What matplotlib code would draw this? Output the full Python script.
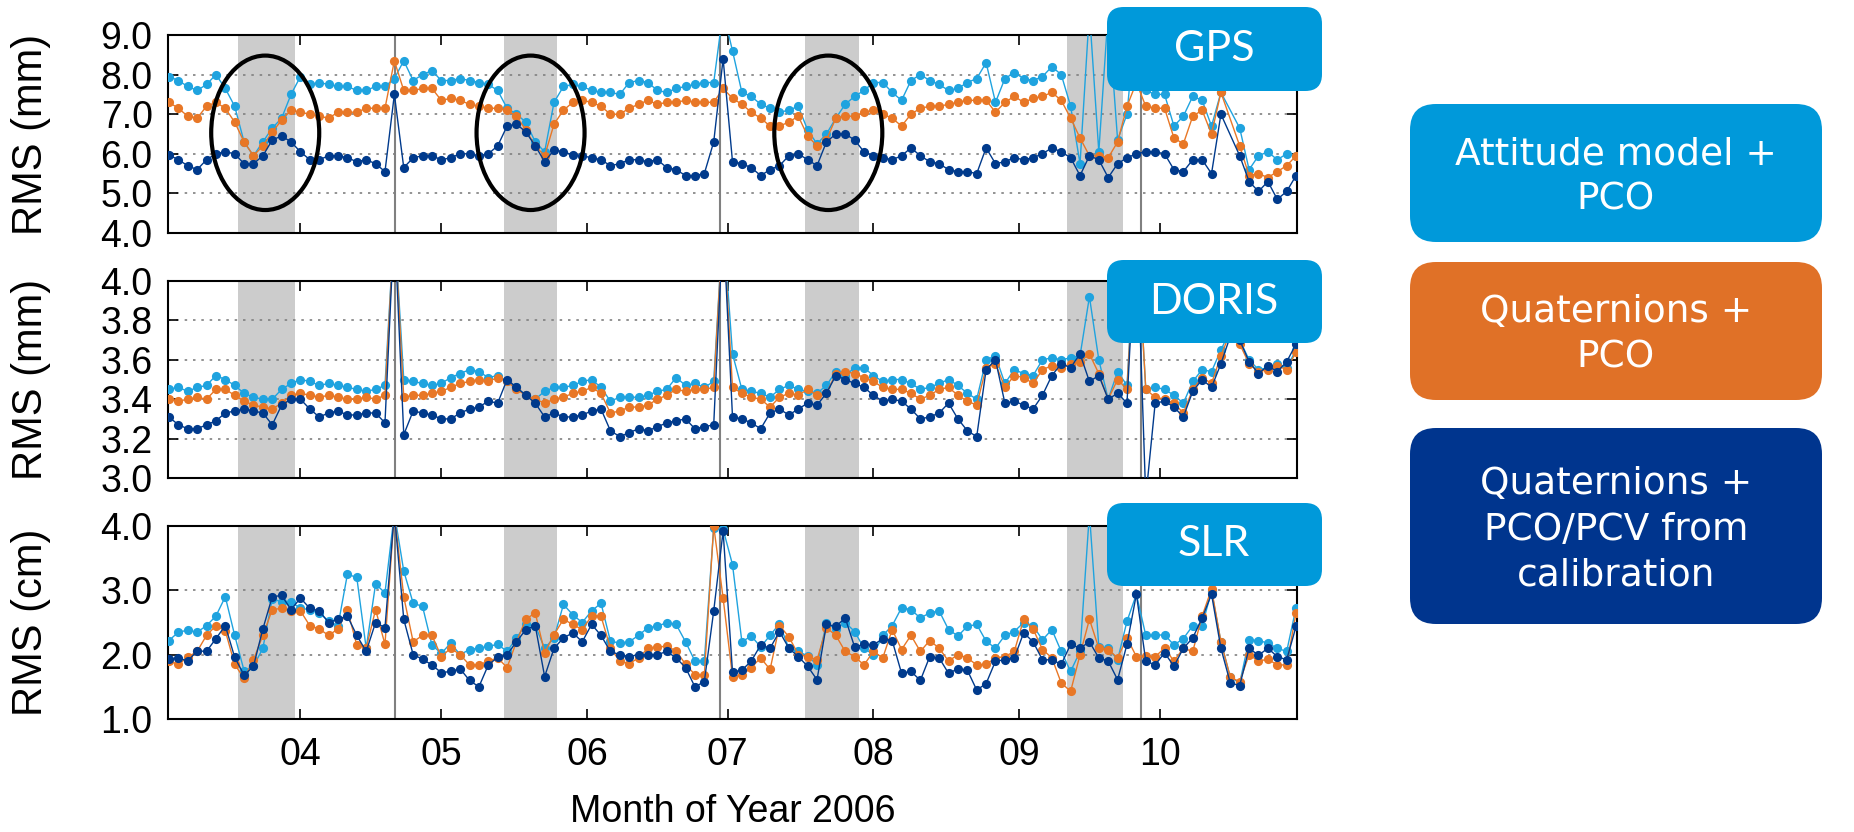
import numpy as np
import matplotlib.pyplot as plt
from matplotlib.patches import FancyBboxPatch, Ellipse

# day of year 2006, one sample every second day
days = np.arange(63, 304, 2)

# GPS RMS (mm)
gps_att = [7.95, 7.85, 7.7, 7.6, 7.75, 8.0, 7.65, 7.2, 6.3, 5.95,
           6.3, 6.65, 6.9, 7.5, 7.95, 7.75, 7.8, 7.75, 7.7, 7.7,
           7.6, 7.6, 7.7, 7.7, 7.9, 8.35, 7.85, 8.0, 8.1, 7.85,
           7.85, 7.9, 7.85, 7.8, 7.75, 7.6, 7.15, 7.0, 6.8, 6.3,
           6.05, 7.3, 7.7, 7.75, 7.7, 7.6, 7.55, 7.55, 7.5, 7.8,
           7.85, 7.8, 7.6, 7.55, 7.65, 7.7, 7.75, 7.8, 7.8, 9.6,
           8.6, 7.55, 7.45, 7.25, 7.15, 7.05, 7.1, 7.2, 6.6, 6.25,
           6.5, 6.9, 7.25, 7.45, 7.6, 7.8, 7.8, 7.55, 7.35, 7.85,
           8.0, 7.85, 7.75, 7.6, 7.65, 7.8, 7.9, 8.3, 7.3, 7.9,
           8.05, 7.9, 7.85, 7.95, 8.2, 8.0, 7.2, 5.75, 9.6, 6.05,
           9.6, 6.35, 7.0, 9.6, 7.6, 7.5, 7.5, 6.7, 6.95, 7.45,
           7.35, 6.7, 7.55, np.nan, 6.65, 5.6, 5.95, 6.05, 5.85, 6.0,
           5.95]
gps_quat = [7.3, 7.15, 6.95, 6.9, 7.2, 7.3, 7.15, 6.8, 6.3, 5.95,
            6.2, 6.55, 6.85, 7.1, 7.05, 7.0, 6.95, 6.9, 7.05, 7.05,
            7.05, 7.15, 7.15, 7.15, 8.35, 7.6, 7.6, 7.65, 7.65, 7.35,
            7.4, 7.35, 7.25, 7.2, 7.15, 7.15, 7.1, 6.95, 6.6, 6.2,
            5.95, 6.75, 7.1, 7.3, 7.35, 7.3, 7.2, 7.0, 7.0, 7.15,
            7.25, 7.35, 7.25, 7.3, 7.3, 7.35, 7.3, 7.3, 7.3, 7.65,
            7.4, 7.25, 7.05, 6.9, 6.7, 6.7, 6.8, 6.95, 6.45, 6.2,
            6.35, 6.9, 6.95, 6.95, 7.05, 7.1, 7.0, 6.9, 6.7, 7.0,
            7.15, 7.2, 7.2, 7.25, 7.3, 7.35, 7.35, 7.35, 7.05, 7.3,
            7.45, 7.3, 7.4, 7.45, 7.55, 7.35, 6.9, 6.4, 5.95, 5.95,
            5.9, 6.3, 7.2, 7.8, 7.2, 7.15, 7.15, 6.4, 6.25, 6.95,
            7.1, 6.5, 7.55, np.nan, 6.2, 5.45, 5.5, 5.4, 5.55, 5.7,
            5.95]
gps_cal = [5.97, 5.85, 5.7, 5.6, 5.85, 6.0, 6.05, 6.0, 5.75, 5.75,
           5.95, 6.35, 6.45, 6.3, 6.05, 5.85, 5.85, 5.95, 5.95, 5.9,
           5.8, 5.85, 5.75, 5.55, 7.5, 5.65, 5.9, 5.95, 5.95, 5.85,
           5.9, 6.0, 6.0, 5.95, 6.0, 6.2, 6.7, 6.75, 6.55, 6.2,
           5.8, 6.1, 6.05, 5.97, 5.95, 5.9, 5.85, 5.7, 5.75, 5.85,
           5.85, 5.8, 5.85, 5.65, 5.6, 5.45, 5.45, 5.5, 6.3, 8.4,
           5.8, 5.75, 5.65, 5.45, 5.6, 5.7, 5.95, 6.0, 5.85, 5.7,
           6.3, 6.5, 6.5, 6.35, 6.05, 5.95, 5.9, 5.85, 5.95, 6.15,
           5.95, 5.8, 5.75, 5.6, 5.55, 5.55, 5.5, 6.15, 5.75, 5.8,
           5.9, 5.85, 5.9, 6.0, 6.15, 6.05, 5.9, 5.45, 5.95, 5.85,
           5.4, 5.75, 5.9, 6.0, 6.05, 6.05, 6.0, 5.6, 5.55, 5.85,
           5.85, 5.5, 7.0, np.nan, 5.95, 5.3, 5.05, 5.3, 4.85, 5.05,
           5.45]

# DORIS RMS (mm)
doris_att = [3.45, 3.46, 3.44, 3.46, 3.47, 3.52, 3.50, 3.47, 3.43, 3.41,
             3.40, 3.40, 3.45, 3.48, 3.50, 3.49, 3.47, 3.48, 3.47, 3.46,
             3.45, 3.44, 3.45, 3.47, 4.3, 3.50, 3.49, 3.48, 3.47, 3.48,
             3.51, 3.53, 3.55, 3.54, 3.51, 3.52, 3.49, 3.46, 3.42, 3.40,
             3.44, 3.46, 3.46, 3.47, 3.49, 3.50, 3.46, 3.39, 3.41, 3.41,
             3.41, 3.42, 3.44, 3.45, 3.51, 3.47, 3.48, 3.46, 3.49, 4.3,
             3.63, 3.45, 3.44, 3.43, 3.41, 3.45, 3.47, 3.45, 3.44, 3.43,
             3.47, 3.54, 3.52, 3.56, 3.56, 3.52, 3.49, 3.50, 3.50, 3.48,
             3.45, 3.46, 3.48, 3.50, 3.47, 3.43, 3.40, 3.60, 3.62, 3.48,
             3.55, 3.53, 3.52, 3.60, 3.61, 3.60, 3.61, 3.62, 3.92, 3.60,
             3.40, 3.54, 3.47, 4.3, 3.45, 3.46, 3.45, 3.42, 3.38, 3.49,
             3.55, 3.54, 3.65, 3.75, 3.70, 3.60, 3.55, 3.56, 3.58, 3.56,
             3.65]
doris_quat = [3.40, 3.39, 3.40, 3.41, 3.40, 3.45, 3.45, 3.42, 3.39, 3.37,
              3.36, 3.35, 3.38, 3.42, 3.43, 3.42, 3.41, 3.42, 3.41, 3.40,
              3.40, 3.41, 3.40, 3.42, 4.3, 3.41, 3.42, 3.42, 3.43, 3.44,
              3.46, 3.48, 3.49, 3.50, 3.49, 3.51, 3.49, 3.45, 3.42, 3.40,
              3.38, 3.40, 3.41, 3.43, 3.44, 3.46, 3.43, 3.33, 3.34, 3.36,
              3.36, 3.37, 3.40, 3.42, 3.45, 3.44, 3.45, 3.45, 3.46, 4.3,
              3.46, 3.43, 3.41, 3.40, 3.36, 3.41, 3.43, 3.42, 3.45, 3.42,
              3.43, 3.53, 3.54, 3.53, 3.51, 3.49, 3.46, 3.45, 3.45, 3.43,
              3.40, 3.42, 3.45, 3.46, 3.42, 3.39, 3.37, 3.56, 3.58, 3.46,
              3.52, 3.51, 3.48, 3.55, 3.57, 3.56, 3.58, 3.59, 3.63, 3.53,
              3.40, 3.50, 3.45, 4.3, 3.45, 3.41, 3.40, 3.38, 3.33, 3.45,
              3.51, 3.48, 3.62, 3.74, 3.68, 3.58, 3.54, 3.55, 3.57, 3.55,
              3.64]
doris_cal = [3.31, 3.27, 3.25, 3.25, 3.27, 3.29, 3.33, 3.34, 3.35, 3.34,
             3.33, 3.27, 3.37, 3.40, 3.40, 3.35, 3.31, 3.33, 3.34, 3.32,
             3.32, 3.33, 3.33, 3.28, 4.3, 3.22, 3.34, 3.33, 3.32, 3.30,
             3.30, 3.33, 3.35, 3.36, 3.39, 3.38, 3.50, 3.46, 3.42, 3.38,
             3.31, 3.33, 3.31, 3.31, 3.32, 3.34, 3.35, 3.24, 3.21, 3.23,
             3.25, 3.24, 3.26, 3.28, 3.29, 3.30, 3.25, 3.26, 3.27, 4.3,
             3.31, 3.30, 3.28, 3.25, 3.33, 3.35, 3.32, 3.35, 3.38, 3.37,
             3.43, 3.52, 3.50, 3.48, 3.46, 3.42, 3.39, 3.40, 3.39, 3.35,
             3.30, 3.31, 3.33, 3.38, 3.30, 3.24, 3.21, 3.55, 3.60, 3.38,
             3.39, 3.37, 3.35, 3.42, 3.52, 3.58, 3.56, 3.63, 3.49, 3.52,
             3.40, 3.43, 3.38, 4.3, 2.9, 3.38, 3.39, 3.36, 3.31, 3.44,
             3.50, 3.46, 3.58, 3.72, 3.70, 3.59, 3.53, 3.57, 3.54, 3.59,
             3.68]

# SLR RMS (cm)
slr_att = [2.22, 2.35, 2.38, 2.35, 2.45, 2.6, 2.9, 2.3, 1.75, 1.82,
           2.1, 2.87, 2.82, 2.82, 2.72, 2.7, 2.65, 2.52, 2.45, 3.25,
           3.2, 2.1, 3.1, 2.96, 4.2, 3.3, 2.8, 2.75, 2.15, 2.02,
           2.18, 2.0, 2.08, 2.1, 2.13, 2.16, 2.05, 2.26, 2.47, 2.45,
           2.1, 2.26, 2.78, 2.62, 2.5, 2.68, 2.8, 2.21, 2.18, 2.2,
           2.3, 2.42, 2.44, 2.5, 2.47, 2.2, 1.9, 1.9, 3.97, 3.95,
           3.4, 2.2, 2.29, 2.12, 2.3, 2.48, 2.1, 2.05, 1.98, 1.84,
           2.49, 2.4, 2.5, 2.36, 2.1, 2.0, 2.3, 2.45, 2.73, 2.7,
           2.57, 2.65, 2.68, 2.39, 2.29, 2.44, 2.47, 2.21, 2.1, 2.3,
           2.36, 2.5, 2.45, 2.23, 2.39, 2.05, 1.74, 2.05, 4.2, 2.12,
           2.1, 1.92, 2.52, 2.94, 2.3, 2.3, 2.31, 2.15, 2.25, 2.45,
           2.45, 2.99, 2.2, 1.65, 1.56, 2.23, 2.22, 2.18, 2.1, 2.05,
           2.73]
slr_quat = [1.90, 1.85, 1.96, 2.05, 2.3, 2.45, 2.37, 1.85, 1.63, 1.92,
            2.3, 2.7, 2.72, 2.68, 2.68, 2.45, 2.4, 2.3, 2.4, 2.7,
            2.15, 2.1, 2.7, 2.16, 4.2, 2.9, 2.2, 2.3, 2.3, 1.97,
            2.1, 2.0, 1.84, 1.84, 1.9, 1.95, 1.8, 2.2, 2.55, 2.65,
            2.03, 2.31, 2.55, 2.47, 2.39, 2.6, 2.6, 2.1, 1.9, 1.86,
            1.95, 2.1, 2.12, 2.13, 2.06, 1.85, 1.69, 1.68, 4.0, 2.88,
            1.66, 1.68, 1.8, 1.95, 1.77, 2.45, 2.28, 2.0, 1.97, 1.92,
            2.42, 2.3, 2.05, 1.97, 1.84, 2.05, 1.95, 2.39, 2.08, 2.3,
            2.05, 2.22, 2.1, 1.9, 2.0, 1.95, 1.84, 1.85, 1.95, 1.97,
            2.05, 2.55, 2.4, 2.08, 1.95, 1.56, 1.43, 2.0, 2.55, 2.1,
            2.08, 1.95, 2.26, 1.97, 1.98, 1.97, 2.1, 1.9, 2.1, 2.05,
            2.6, 3.02, 2.2, 1.65, 1.58, 2.0, 1.9, 1.93, 1.84, 1.84,
            2.65]
slr_cal = [1.93, 1.95, 1.9, 2.06, 2.05, 2.25, 2.45, 1.96, 1.68, 1.82,
           2.4, 2.9, 2.92, 2.7, 2.88, 2.72, 2.68, 2.5, 2.55, 2.6,
           2.3, 2.05, 2.5, 2.42, 4.2, 2.55, 2.0, 1.93, 1.84, 1.72,
           1.74, 1.78, 1.6, 1.5, 1.84, 1.96, 2.0, 2.2, 2.39, 2.45,
           1.66, 2.1, 2.26, 2.34, 2.2, 2.47, 2.3, 2.05, 2.0, 1.97,
           2.0, 2.0, 2.0, 2.05, 1.95, 1.8, 1.5, 1.58, 2.68, 3.92,
           1.73, 1.76, 1.9, 2.15, 2.1, 2.36, 2.1, 1.97, 1.82, 1.61,
           2.47, 2.44, 2.57, 2.12, 2.16, 2.15, 2.25, 2.22, 1.71, 1.74,
           1.6, 1.97, 1.95, 1.71, 1.78, 1.76, 1.45, 1.55, 1.9, 1.92,
           1.95, 2.34, 2.2, 1.92, 1.92, 1.85, 2.16, 2.1, 2.2, 1.95,
           1.9, 1.61, 2.16, 2.94, 1.9, 1.84, 2.03, 1.82, 2.1, 2.26,
           2.57, 2.94, 2.1, 1.56, 1.52, 2.1, 1.99, 2.1, 1.97, 1.92,
           2.44]

month_starts = [91, 121, 152, 182, 213, 244, 274]
month_labels = ['04', '05', '06', '07', '08', '09', '10']
shaded_periods = [(77.7, 89.8), (134.3, 145.6), (198.5, 209.9), (254.3, 266.2)]
event_days = [111.1, 180.4, 270.0]

LIGHT = '#1fa3df'
ORANGE = '#e87726'
NAVY = '#003a8c'
BOX_BLUE = '#0099da'
BOX_ORANGE = '#e07127'
BOX_NAVY = '#00358e'
AXFONT = 'Liberation Sans'

W, H = 1854, 832
fig = plt.figure(figsize=(W / 100, H / 100), dpi=100)


def rect(x0, y0, x1, y1):
    # pixel box measured from the top-left corner -> figure fraction
    return [x0 / W, 1 - y1 / H, (x1 - x0) / W, (y1 - y0) / H]


panels = [
    dict(box=(168, 35, 1297, 233), ylim=(4.0, 9.0), step=1.0, unit='mm', name='GPS',
         series=(gps_att, gps_quat, gps_cal), tag=(7, 91)),
    dict(box=(168, 281, 1297, 478), ylim=(3.0, 4.0), step=0.2, unit='mm', name='DORIS',
         series=(doris_att, doris_quat, doris_cal), tag=(260, 343)),
    dict(box=(168, 526, 1297, 719), ylim=(1.0, 4.0), step=1.0, unit='cm', name='SLR',
         series=(slr_att, slr_quat, slr_cal), tag=(503, 586)),
]

axes = []
for i, p in enumerate(panels):
    ax = fig.add_axes(rect(*p['box']))
    axes.append(ax)
    for a, b in shaded_periods:
        ax.axvspan(a, b, color='#cccccc', lw=0, zorder=0)
    for d in event_days:
        ax.axvline(d, color='#808080', lw=1.5, zorder=1)

    for vals, col in zip(p['series'], (LIGHT, ORANGE, NAVY)):
        v = np.asarray(vals, dtype=float)
        ok = np.isfinite(v)
        ax.plot(days[ok], v[ok], '-o', color=col, lw=1.0, ms=6.6,
                markeredgewidth=0, zorder=3)

    lo, hi = p['ylim']
    ax.set_xlim(62.8, 303.2)
    ax.set_ylim(lo, hi)
    ticks = np.round(np.arange(lo, hi + 1e-9, p['step']), 1)
    ax.set_yticks(ticks)
    ax.set_yticklabels(['%.1f' % t for t in ticks], family=AXFONT)
    ax.set_xticks(month_starts)
    if i == 2:
        ax.set_xticklabels(month_labels, family=AXFONT)
    else:
        ax.set_xticklabels([])
    ax.yaxis.grid(True, linestyle=(0, (1.5, 3.5)), color='#808080', lw=1.2)
    ax.tick_params(direction='in', top=True, right=True, length=7, width=1.2,
                   labelsize=27, colors='black')
    ax.tick_params(axis='y', pad=11)
    ax.tick_params(axis='x', pad=13, labelsize=27)
    for s in ax.spines.values():
        s.set_linewidth(1.5)
    ax.set_ylabel('RMS (%s)' % p['unit'], fontsize=30, family=AXFONT)
    ax.yaxis.set_label_coords(-0.104, 0.5)

    # panel tag in the upper right corner
    y0, y1 = p['tag']
    tag = FancyBboxPatch((1107 / W, 1 - y1 / H), 215 / W, (y1 - y0) / H,
                         boxstyle='round,pad=0,rounding_size=0.009',
                         transform=fig.transFigure, mutation_aspect=W / H,
                         facecolor=BOX_BLUE, edgecolor='none', zorder=10)
    fig.add_artist(tag)
    fig.text(1214 / W, 1 - (y0 + y1) / 2 / H, p['name'], color='white',
             fontsize=31, family='Lato', ha='center', va='center', zorder=11)

axes[2].set_xlabel('Month of Year 2006', fontsize=27, family=AXFONT, labelpad=15)

# attitude-change periods highlighted in the GPS panel
for cx in (83.5, 140.0, 203.4):
    axes[0].add_patch(Ellipse((cx, 6.53), 23, 3.9, fill=False, ec='black',
                              lw=3.0, zorder=6, clip_on=False))

# legend boxes on the right
legend_items = [
    ('Attitude model +\nPCO', BOX_BLUE, (104, 242)),
    ('Quaternions +\nPCO', BOX_ORANGE, (262, 400)),
    ('Quaternions +\nPCO/PCV from\ncalibration', BOX_NAVY, (428, 624)),
]
for text, col, (y0, y1) in legend_items:
    box = FancyBboxPatch((1410 / W, 1 - y1 / H), 412 / W, (y1 - y0) / H,
                         boxstyle='round,pad=0,rounding_size=0.014',
                         transform=fig.transFigure, mutation_aspect=W / H,
                         facecolor=col, edgecolor='none')
    fig.add_artist(box)
    fig.text(1616 / W, 1 - ((y0 + y1) / 2 + 4) / H, text, color='white',
             fontsize=27, ha='center', va='center', linespacing=1.35)

fig.savefig('out.png', dpi=100)
